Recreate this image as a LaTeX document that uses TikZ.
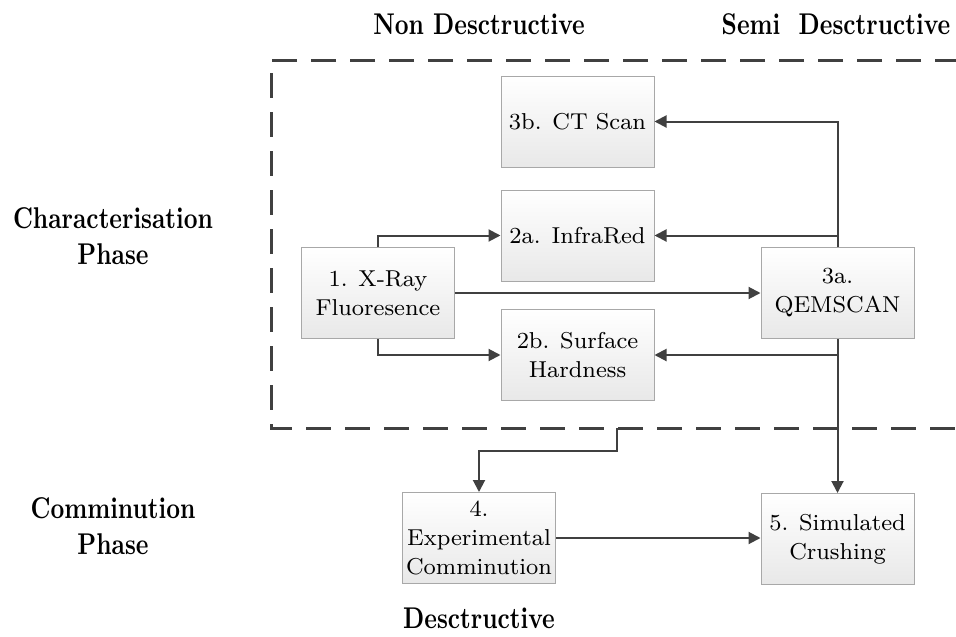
\documentclass[tikz,border=0pt]{standalone}
\usepackage{fontspec}
\setmainfont{lmroman8-regular.otf}[
  BoldFont=lmroman10-bold.otf,
  BoldFeatures={FakeStretch=0.8}]
\usetikzlibrary{arrows.meta}

\definecolor{linegray}{HTML}{404040}
\definecolor{boxborder}{HTML}{A8A8A8}
\definecolor{boxshade}{HTML}{E8E8E8}

\tikzset{
  stagebox/.style={draw=boxborder, line width=1pt, top color=white, bottom color=boxshade,
    minimum width=153pt, minimum height=91pt, inner sep=0pt, align=center,
    font=\fontsize{23}{29}\selectfont},
  heading/.style={align=center, inner sep=0pt, font=\fontsize{30}{36}\selectfont\bfseries},
  flow/.style={draw=linegray, line width=2pt,
    -{Triangle[length=12pt,width=12pt]}},
  phase/.style={draw=linegray, line width=3pt, dash pattern=on 25pt off 14pt}
}

\begin{document}
\begin{tikzpicture}[x=1pt, y=-1pt]
\useasboundingbox (0,0) rectangle (956,637);

% characterisation region
\draw[phase] (960,60) -- (271,60) -- (271,428) -- (960,428);

% stages
\node[stagebox] (ct) at (577.5,121.5) {3b. CT Scan};
\node[stagebox] (ir) at (577.5,235.5) {2a. InfraRed};
\node[stagebox] (xr) at (378,293) {1. X-Ray\\Fluoresence};
\node[stagebox] (sh) at (577.5,355) {2b. Surface\\Hardness};
\node[stagebox] (qm) at (837.5,293) {3a.\\QEMSCAN};
\node[stagebox] (ex) at (479,538) {4.\\Experimental\\Comminution};
\node[stagebox] (sc) at (837.5,539) {5. Simulated\\Crushing};

% headings
\node[heading] (nd) at (479,24) {Non Desctructive};
\node[heading] (sd) at (836,24) {Semi~~Desctructive};
\node[heading] (cp) at (113,236) {Characterisation\\Phase};
\node[heading] (mp) at (113,526) {Comminution\\Phase};
\node[heading] (de) at (479,618) {Desctructive};

% connectors
\draw[flow] (xr.north) |- (ir.west);
\draw[flow] (xr.east) -- (qm.west);
\draw[flow] (xr.south) |- (sh.west);
\draw[flow] (qm.north) |- (ir.east);
\draw[flow] (qm.north) |- (ct.east);
\draw[flow] (qm.south) |- (sh.east);
\draw[flow] (qm.south) -- (sc.north);
\coordinate (exit) at (617,428);
\draw[flow] (exit) -- (617,451) -| (ex.north);
\draw[flow] (ex.east) -- (ex.east -| sc.west);
\end{tikzpicture}
\end{document}
